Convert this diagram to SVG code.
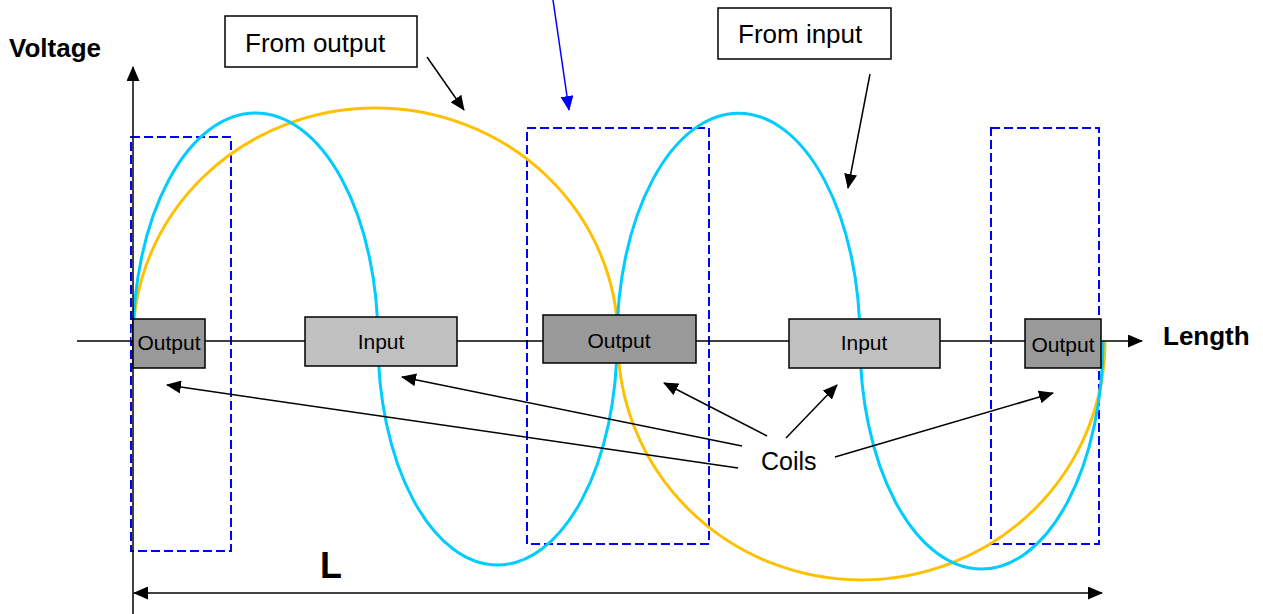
<svg xmlns="http://www.w3.org/2000/svg" width="1263" height="614" viewBox="0 0 1263 614">
<defs>
<marker id="ah" viewBox="0 0 15 13" refX="14" refY="6.5" markerWidth="15" markerHeight="13" markerUnits="userSpaceOnUse" orient="auto-start-reverse"><path d="M0,0 L15,6.5 L0,13 z" fill="#000"/></marker>
<marker id="ahb" viewBox="0 0 15 13" refX="14" refY="6.5" markerWidth="15" markerHeight="13" markerUnits="userSpaceOnUse" orient="auto"><path d="M0,0 L15,6.5 L0,13 z" fill="#0000ff"/></marker>
</defs>
<style>
.t{font-family:"Liberation Sans",Arial,sans-serif;fill:#000}
.lbl{font-size:26px}
.bx{font-size:21px;text-anchor:middle}
.b{font-weight:bold}
.ax{stroke:#000;stroke-width:1.5;fill:none}
.ar{stroke:#000;stroke-width:1.5;fill:none;marker-end:url(#ah)}
.dash{fill:none;stroke:#0000ff;stroke-width:2;stroke-dasharray:9 4}
.out{fill:#999999;stroke:#000;stroke-width:1.5}
.in{fill:#c0c0c0;stroke:#000;stroke-width:1.5}
.cur{fill:none;stroke-width:3}
</style>
<rect width="1263" height="614" fill="#fff"/>
<g id="zones">
<rect class="dash" x="131" y="137" width="100" height="414"/>
<rect class="dash" x="527" y="128" width="182" height="416"/>
<rect class="dash" x="991" y="128" width="108" height="416"/>
</g>
<g id="curves">
<path class="cur" stroke="#ffc000" d="M133,341 A242.5,233 0 0 1 618,341 A243.5,239 0 0 0 1105,341"/>
<path class="cur" stroke="#00ccff" d="M133,341 A122.5,228 0 0 1 378,341 A119.5,224 0 0 0 617,341 A121.5,228 0 0 1 860,341 A121.5,228 0 0 0 1103,341"/>
</g>
<g id="connectors">
<line class="ax" x1="133" y1="614" x2="133" y2="67" marker-end="url(#ah)"/>
<line class="ax" x1="77" y1="341" x2="1142" y2="341" marker-end="url(#ah)"/>
<line class="ax" x1="134" y1="593" x2="1102" y2="593" marker-start="url(#ah)" marker-end="url(#ah)"/>
<line x1="553" y1="0" x2="569" y2="110" stroke="#0000ff" stroke-width="1.5" marker-end="url(#ahb)"/>
<line class="ar" x1="427" y1="57" x2="464" y2="110"/>
<line class="ar" x1="870" y1="74" x2="848" y2="188"/>
<line class="ar" x1="738" y1="468" x2="167" y2="385"/>
<line class="ar" x1="742" y1="446" x2="402" y2="377"/>
<line class="ar" x1="767" y1="436" x2="664" y2="383"/>
<line class="ar" x1="786" y1="438" x2="837" y2="385"/>
<line class="ar" x1="835" y1="457" x2="1053" y2="393"/>
</g>
<g id="output1"><rect class="out" x="133" y="319" width="72" height="49"/><text class="t bx" x="169" y="350">Output</text></g>
<g id="input1"><rect class="in" x="305" y="317" width="152" height="49"/><text class="t bx" x="381" y="349">Input</text></g>
<g id="output2"><rect class="out" x="543" y="315" width="153" height="48"/><text class="t bx" x="619" y="348">Output</text></g>
<g id="input2"><rect class="in" x="789" y="319" width="151" height="49"/><text class="t bx" x="864" y="350">Input</text></g>
<g id="output3"><rect class="out" x="1025" y="319" width="76" height="49"/><text class="t bx" x="1063" y="352">Output</text></g>
<g id="from-output"><rect x="225" y="16" width="192" height="51" fill="#fff" stroke="#000" stroke-width="1.5"/><text class="t lbl" x="245" y="52">From output</text></g>
<g id="from-input"><rect x="718" y="8" width="173" height="51" fill="#fff" stroke="#000" stroke-width="1.5"/><text class="t lbl" x="738" y="43">From input</text></g>
<g id="labels">
<text class="t lbl b" x="9" y="57">Voltage</text>
<text class="t lbl b" x="1163" y="345">Length</text>
<text class="t b" x="320" y="578" font-size="36">L</text>
<text class="t" x="761" y="470" font-size="25">Coils</text>
</g>
</svg>
